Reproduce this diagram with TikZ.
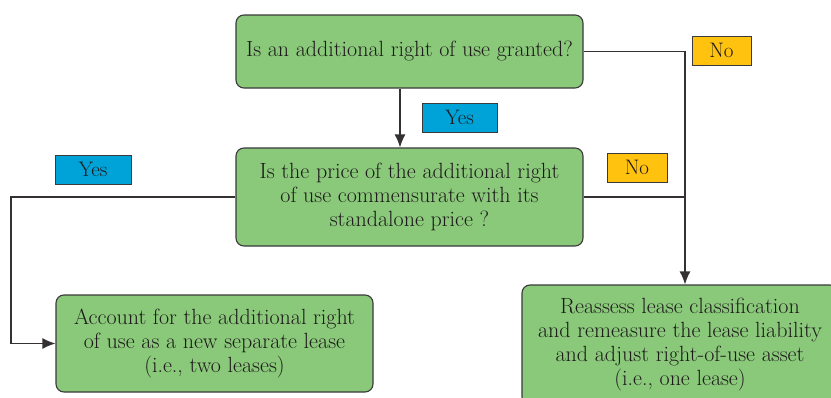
\documentclass[tikz,border=0pt]{standalone}
\usetikzlibrary{arrows.meta}
\definecolor{boxgreen}{HTML}{8AC97A}
\definecolor{yesblue}{HTML}{00A3D8}
\definecolor{noorange}{HTML}{FFC20E}
\definecolor{ink}{HTML}{1E1A1B}
\definecolor{edge}{HTML}{3A3A3A}
\begin{document}
\begin{tikzpicture}[x=1pt,y=-1pt,
  box/.style={draw=edge,line width=1.1pt,fill=boxgreen,rounded corners=8pt,align=center,
    inner sep=0pt,text=ink,font=\fontsize{22}{24}\selectfont},
  tag/.style={draw=edge,line width=1pt,inner sep=0pt,text=ink,font=\fontsize{21}{22}\selectfont,
    minimum height=29pt},
  yestag/.style={tag,fill=yesblue},
  notag/.style={tag,fill=noorange},
  link/.style={draw=ink!90,line width=1.4pt},
  arr/.style={link,-{Latex[length=13pt,width=11pt]}}]
\useasboundingbox (0,0) rectangle (831,397);
\clip (0,0) rectangle (831,397);
\fill[white] (0,0) rectangle (831,397);
\node[box,minimum width=347pt,minimum height=73pt] (q1) at (409.5,51.5) {Is an additional right of use granted?};
\node[box,minimum width=347pt,minimum height=98pt] (q2) at (409.5,197) {Is the price of the additional right\\of use commensurate with its\\standalone price ?};
\node[box,minimum width=317pt,minimum height=97pt] (sep) at (214.5,343.5) {Account for the additional right\\of use as a new separate lease\\(i.e., two leases)};
\node[box,minimum width=316pt,minimum height=120pt] (one) at (680,345) {Reassess lease classification\\and remeasure the lease liability\\and adjust right-of-use asset\\(i.e., one lease)};
\node[yestag,minimum width=75pt] (y1) at (459.5,117.5) {Yes};
\node[yestag,minimum width=76pt] (y2) at (93,169.5) {Yes};
\node[notag,minimum width=59pt] (n1) at (721.5,50.5) {No};
\node[notag,minimum width=60pt] (n2) at (637,167.5) {No};
\coordinate (ax) at (400,0);
\coordinate (jx) at (685,0);
\coordinate (lx) at (11,0);
\draw[arr] (q1.south -| ax) -- (q2.north -| ax);
\draw[arr] (q1.east) -| (one.north -| jx);
\draw[link] (q2.east) -- (q2.east -| jx);
\draw[arr] (q2.west) -- (q2.west -| lx) |- (sep.west);
\end{tikzpicture}
\end{document}
